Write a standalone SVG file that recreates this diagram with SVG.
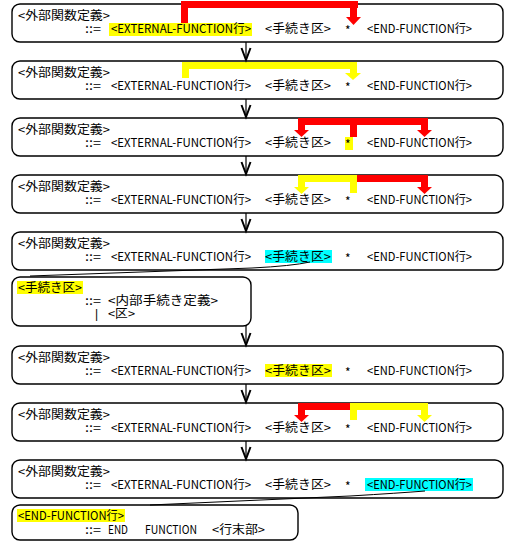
<svg xmlns="http://www.w3.org/2000/svg" width="509" height="542" viewBox="0 0 509 542">
<style>
.box{fill:#fff;stroke:#000;stroke-width:1.4}
text{font-family:"Noto Sans CJK JP","Liberation Sans",sans-serif;font-size:12px;fill:#000}
.bar{font-family:"Liberation Sans",sans-serif;fill:#000}
.hy{fill:#ffff00}
.hc{fill:#00ffff}
.r{fill:#ff0000}
.y{fill:#ffff00}
.flow{stroke:#000;stroke-width:1.2;fill:none}
.head{stroke:#000;stroke-width:2;fill:none}
.call{stroke:#000;stroke-width:1;fill:none}
</style>

<g id="box1">
<rect class="box" x="12" y="4" width="491" height="38" rx="8"/>
<rect class="hy" x="109" y="23" width="143" height="13"/>
<text x="18" y="20" textLength="92" lengthAdjust="spacingAndGlyphs">&lt;外部関数定義&gt;</text>
<text x="85" y="33" textLength="16" lengthAdjust="spacingAndGlyphs">::=</text>
<text x="111" y="33" textLength="140" lengthAdjust="spacingAndGlyphs">&lt;EXTERNAL-FUNCTION行&gt;</text>
<text x="265" y="33" textLength="66" lengthAdjust="spacingAndGlyphs">&lt;手続き区&gt;</text>
<text x="345" y="35">*</text>
<text x="367" y="33" textLength="105" lengthAdjust="spacingAndGlyphs">&lt;END-FUNCTION行&gt;</text>
<rect class="r" x="181" y="1" width="7" height="22"/>
<rect class="r" x="181" y="1" width="177" height="7"/>
<rect class="r" x="350" y="1" width="7" height="16"/>
<polygon class="r" points="346,17 361,17 353.5,25"/>
</g>

<g id="box2">
<rect class="box" x="12" y="61" width="491" height="38" rx="8"/>
<text x="18" y="77" textLength="92" lengthAdjust="spacingAndGlyphs">&lt;外部関数定義&gt;</text>
<text x="85" y="90" textLength="16" lengthAdjust="spacingAndGlyphs">::=</text>
<text x="111" y="90" textLength="140" lengthAdjust="spacingAndGlyphs">&lt;EXTERNAL-FUNCTION行&gt;</text>
<text x="265" y="90" textLength="66" lengthAdjust="spacingAndGlyphs">&lt;手続き区&gt;</text>
<text x="345" y="92">*</text>
<text x="367" y="90" textLength="105" lengthAdjust="spacingAndGlyphs">&lt;END-FUNCTION行&gt;</text>
<rect class="y" x="182" y="62" width="7" height="16"/>
<rect class="y" x="182" y="62" width="175" height="7"/>
<rect class="y" x="350" y="62" width="7" height="11"/>
<polygon class="y" points="345,73 361,73 353,80"/>
</g>

<g id="box3">
<rect class="box" x="12" y="118" width="491" height="38" rx="8"/>
<rect class="hy" x="345" y="137" width="8" height="13"/>
<text x="18" y="134" textLength="92" lengthAdjust="spacingAndGlyphs">&lt;外部関数定義&gt;</text>
<text x="85" y="147" textLength="16" lengthAdjust="spacingAndGlyphs">::=</text>
<text x="111" y="147" textLength="140" lengthAdjust="spacingAndGlyphs">&lt;EXTERNAL-FUNCTION行&gt;</text>
<text x="265" y="147" textLength="66" lengthAdjust="spacingAndGlyphs">&lt;手続き区&gt;</text>
<text x="345" y="149">*</text>
<text x="367" y="147" textLength="105" lengthAdjust="spacingAndGlyphs">&lt;END-FUNCTION行&gt;</text>
<rect class="r" x="298" y="118" width="130" height="7"/>
<rect class="r" x="298" y="118" width="7" height="12"/>
<polygon class="r" points="294,130 309,130 301.5,137"/>
<rect class="r" x="350" y="118" width="7" height="19"/>
<rect class="r" x="421" y="118" width="7" height="12"/>
<polygon class="r" points="417,130 432,130 424.5,137"/>
</g>

<g id="box4">
<rect class="box" x="12" y="175" width="491" height="38" rx="8"/>
<text x="18" y="191" textLength="92" lengthAdjust="spacingAndGlyphs">&lt;外部関数定義&gt;</text>
<text x="85" y="204" textLength="16" lengthAdjust="spacingAndGlyphs">::=</text>
<text x="111" y="204" textLength="140" lengthAdjust="spacingAndGlyphs">&lt;EXTERNAL-FUNCTION行&gt;</text>
<text x="265" y="204" textLength="66" lengthAdjust="spacingAndGlyphs">&lt;手続き区&gt;</text>
<text x="345" y="206">*</text>
<text x="367" y="204" textLength="105" lengthAdjust="spacingAndGlyphs">&lt;END-FUNCTION行&gt;</text>
<rect class="y" x="298" y="175" width="59" height="7"/>
<rect class="y" x="298" y="175" width="7" height="12"/>
<polygon class="y" points="294,187 309,187 301.5,194"/>
<rect class="y" x="350" y="175" width="7" height="18"/>
<rect class="r" x="357" y="175" width="71" height="7"/>
<rect class="r" x="421" y="175" width="7" height="12"/>
<polygon class="r" points="417,187 432,187 424.5,194"/>
</g>

<g id="box5">
<rect class="box" x="12" y="232" width="491" height="38" rx="8"/>
<rect class="hc" x="265" y="250" width="67" height="13"/>
<text x="18" y="248" textLength="92" lengthAdjust="spacingAndGlyphs">&lt;外部関数定義&gt;</text>
<text x="85" y="261" textLength="16" lengthAdjust="spacingAndGlyphs">::=</text>
<text x="111" y="261" textLength="140" lengthAdjust="spacingAndGlyphs">&lt;EXTERNAL-FUNCTION行&gt;</text>
<text x="265" y="261" textLength="66" lengthAdjust="spacingAndGlyphs">&lt;手続き区&gt;</text>
<text x="345" y="263">*</text>
<text x="367" y="261" textLength="105" lengthAdjust="spacingAndGlyphs">&lt;END-FUNCTION行&gt;</text>
</g>

<g id="box6">
<rect class="box" x="12" y="277" width="239" height="49" rx="8"/>
<rect class="hy" x="17" y="281" width="66" height="13"/>
<text x="18" y="292" textLength="64" lengthAdjust="spacingAndGlyphs">&lt;手続き区&gt;</text>
<text x="85" y="305" textLength="16" lengthAdjust="spacingAndGlyphs">::=</text>
<text x="108" y="305" textLength="110" lengthAdjust="spacingAndGlyphs">&lt;内部手続き定義&gt;</text>
<text class="bar" x="95" y="318">|</text>
<text x="108" y="318" textLength="27" lengthAdjust="spacingAndGlyphs">&lt;区&gt;</text>
</g>

<g id="box7">
<rect class="box" x="12" y="346" width="491" height="38" rx="8"/>
<rect class="hy" x="265" y="364" width="67" height="13"/>
<text x="18" y="362" textLength="92" lengthAdjust="spacingAndGlyphs">&lt;外部関数定義&gt;</text>
<text x="85" y="375" textLength="16" lengthAdjust="spacingAndGlyphs">::=</text>
<text x="111" y="375" textLength="140" lengthAdjust="spacingAndGlyphs">&lt;EXTERNAL-FUNCTION行&gt;</text>
<text x="265" y="375" textLength="66" lengthAdjust="spacingAndGlyphs">&lt;手続き区&gt;</text>
<text x="345" y="377">*</text>
<text x="367" y="375" textLength="105" lengthAdjust="spacingAndGlyphs">&lt;END-FUNCTION行&gt;</text>
</g>

<g id="box8">
<rect class="box" x="12" y="403" width="491" height="38" rx="8"/>
<text x="18" y="419" textLength="92" lengthAdjust="spacingAndGlyphs">&lt;外部関数定義&gt;</text>
<text x="85" y="432" textLength="16" lengthAdjust="spacingAndGlyphs">::=</text>
<text x="111" y="432" textLength="140" lengthAdjust="spacingAndGlyphs">&lt;EXTERNAL-FUNCTION行&gt;</text>
<text x="265" y="432" textLength="66" lengthAdjust="spacingAndGlyphs">&lt;手続き区&gt;</text>
<text x="345" y="434">*</text>
<text x="367" y="432" textLength="105" lengthAdjust="spacingAndGlyphs">&lt;END-FUNCTION行&gt;</text>
<rect class="r" x="298" y="403" width="52" height="7"/>
<rect class="r" x="298" y="403" width="7" height="12"/>
<polygon class="r" points="294,415 309,415 301.5,422"/>
<rect class="y" x="350" y="403" width="78" height="7"/>
<rect class="y" x="350" y="403" width="7" height="17"/>
<rect class="y" x="421" y="403" width="7" height="12"/>
<polygon class="y" points="417,415 432,415 424.5,422"/>
</g>

<g id="box9">
<rect class="box" x="12" y="460" width="491" height="38" rx="8"/>
<rect class="hc" x="365" y="478" width="108" height="13"/>
<text x="18" y="476" textLength="92" lengthAdjust="spacingAndGlyphs">&lt;外部関数定義&gt;</text>
<text x="85" y="489" textLength="16" lengthAdjust="spacingAndGlyphs">::=</text>
<text x="111" y="489" textLength="140" lengthAdjust="spacingAndGlyphs">&lt;EXTERNAL-FUNCTION行&gt;</text>
<text x="265" y="489" textLength="66" lengthAdjust="spacingAndGlyphs">&lt;手続き区&gt;</text>
<text x="345" y="491">*</text>
<text x="367" y="489" textLength="105" lengthAdjust="spacingAndGlyphs">&lt;END-FUNCTION行&gt;</text>
</g>

<g id="box10">
<rect class="box" x="12" y="505" width="286" height="35" rx="8"/>
<rect class="hy" x="17" y="509" width="108" height="13"/>
<text x="18" y="520" textLength="106" lengthAdjust="spacingAndGlyphs">&lt;END-FUNCTION行&gt;</text>
<text x="85" y="534" textLength="16" lengthAdjust="spacingAndGlyphs">::=</text>
<text x="108" y="534" textLength="20" lengthAdjust="spacingAndGlyphs">END</text>
<text x="145" y="534" textLength="52" lengthAdjust="spacingAndGlyphs">FUNCTION</text>
<text x="212" y="534" textLength="53" lengthAdjust="spacingAndGlyphs">&lt;行末部&gt;</text>
</g>

<g id="connectors">
<path class="flow" d="M246 42V60M246 99V117M246 156V174M246 213V231M246 326V345M246 384V402M246 441V459"/>
<polyline class="head" points="241.5,48 246,60 250.5,48"/>
<polyline class="head" points="241.5,105 246,117 250.5,105"/>
<polyline class="head" points="241.5,162 246,174 250.5,162"/>
<polyline class="head" points="241.5,219 246,231 250.5,219"/>
<polyline class="head" points="241.5,333 246,345 250.5,333"/>
<polyline class="head" points="241.5,390 246,402 250.5,390"/>
<polyline class="head" points="241.5,447 246,459 250.5,447"/>
<path class="call" d="M310 262 Q292 266 252 268 L30 276"/>
<path class="call" d="M425 491 Q400 493 350 496 L150 505"/>
</g>
</svg>
